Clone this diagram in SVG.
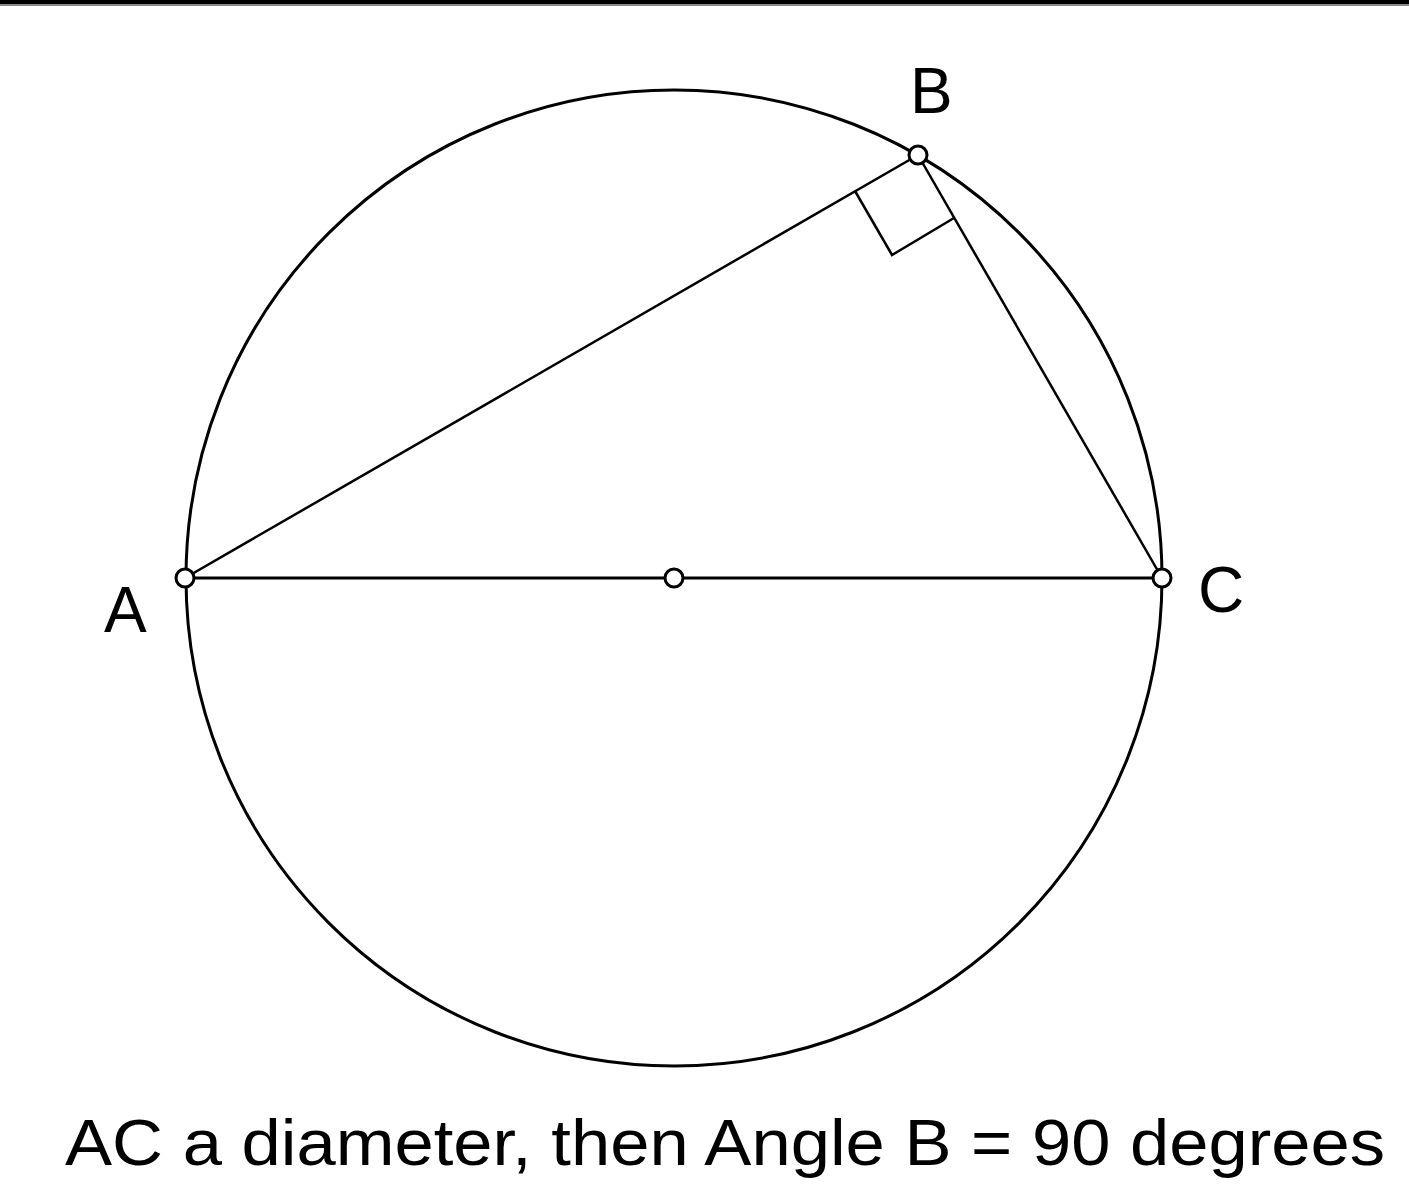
<svg xmlns="http://www.w3.org/2000/svg" width="1409" height="1200" viewBox="0 0 1409 1200">
<style>
.ln{stroke:#000;stroke-width:3;fill:none}
.thin{stroke:#000;stroke-width:2.5;fill:none}
.pt{stroke:#000;stroke-width:3;fill:#fff}
.lbl{font-family:"Liberation Sans",Arial,sans-serif;font-size:64px;fill:#000}
</style>
<rect x="0" y="0" width="1409" height="4" fill="#000"/>
<rect x="0" y="4" width="1409" height="2" fill="#888"/>
<g id="circle"><circle cx="674" cy="578" r="488" class="ln"/></g>
<g id="connectors">
<line x1="185" y1="578" x2="1162" y2="578" class="ln"/>
<line x1="185" y1="578" x2="918" y2="155" class="thin"/>
<line x1="918" y1="155" x2="1162" y2="578" class="thin"/>
<polyline points="855,191 892,255 954,218" class="thin"/>
</g>
<g id="A"><circle cx="185" cy="578" r="9" class="pt"/><text x="104" y="632" class="lbl">A</text></g>
<g id="O"><circle cx="674" cy="578" r="9" class="pt"/></g>
<g id="C"><circle cx="1162" cy="578" r="9" class="pt"/><text x="1198" y="612" class="lbl">C</text></g>
<g id="B"><circle cx="918" cy="155" r="9" class="pt"/><text x="910" y="113" class="lbl">B</text></g>
<g id="caption"><text x="65" y="1165" class="lbl" textLength="1320" lengthAdjust="spacingAndGlyphs">AC a diameter, then Angle B = 90 degrees</text></g>
</svg>
